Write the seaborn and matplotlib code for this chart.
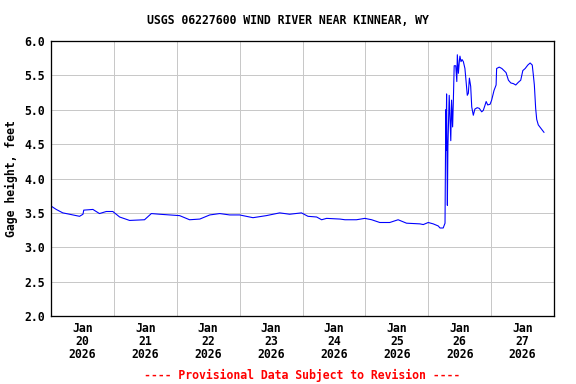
import matplotlib
matplotlib.use("Agg")
import matplotlib.pyplot as plt
import numpy as np
import pandas as pd
import seaborn as sns

# hours since 2026-01-20 00:00 and gage height (feet)
hours = [0.0, 2.0, 4.5, 7.1, 10.9, 12.2, 12.5, 16.0, 18.5, 21.1, 23.6, 26.2, 30.0,
         35.7, 38.3, 41.5, 45.3, 49.1, 52.9, 56.8, 60.6, 64.4, 68.2, 72.0, 77.1,
         82.2, 87.3, 91.1, 95.6, 98.1, 101.4, 103.3, 105.2, 110.3, 112.2, 116.6,
         119.8, 122.4, 125.5, 129.3, 132.5, 135.7, 140.8, 142.1, 144.0, 145.9,
         147.8, 148.5, 149.7, 150.4, 150.7, 150.8, 151.0, 151.3, 151.5, 152.0,
         152.6, 152.9, 153.3, 153.6, 153.9, 154.5, 154.9, 155.1, 155.5, 155.9,
         156.1, 156.5, 156.9, 157.4, 158.0, 158.4, 158.9, 159.3, 159.7, 160.2,
         160.6, 161.2, 161.8, 162.7, 163.5, 164.4, 165.0, 165.7, 166.1, 166.7,
         167.6, 168.2, 169.1, 169.9, 170.1, 171.1, 172.1, 172.9, 173.7, 174.6,
         175.5, 176.5, 177.4, 178.4, 179.3, 180.1, 181.0, 182.0, 182.9, 183.7,
         184.1, 184.5, 185.0, 185.4, 186.0, 187.0, 188.2]
gage_ft = [3.60, 3.55, 3.50, 3.48, 3.45, 3.48, 3.54, 3.55, 3.49, 3.52, 3.52, 3.44, 3.39,
           3.40, 3.49, 3.48, 3.47, 3.46, 3.40, 3.41, 3.47, 3.49, 3.47, 3.47, 3.43,
           3.46, 3.50, 3.48, 3.50, 3.45, 3.44, 3.40, 3.42, 3.41, 3.40, 3.40,
           3.42, 3.40, 3.36, 3.36, 3.40, 3.35, 3.34, 3.33, 3.36, 3.34,
           3.31, 3.28, 3.28, 3.35, 5.00, 4.41, 5.23, 3.61, 4.46, 5.21,
           4.55, 5.14, 4.75, 5.16, 5.64, 5.64, 5.41, 5.80, 5.53, 5.72,
           5.78, 5.70, 5.73, 5.70, 5.60, 5.43, 5.21, 5.24, 5.46, 5.34,
           5.04, 4.92, 5.01, 5.03, 5.02, 4.97, 4.99, 5.07, 5.12, 5.07,
           5.08, 5.14, 5.28, 5.36, 5.60, 5.62, 5.60, 5.57, 5.54, 5.43,
           5.39, 5.38, 5.36, 5.40, 5.43, 5.57, 5.60, 5.65, 5.68, 5.65,
           5.51, 5.36, 5.02, 4.86, 4.78, 4.73, 4.67]
day_labels = ["Jan\n20\n2026", "Jan\n21\n2026", "Jan\n22\n2026", "Jan\n23\n2026",
              "Jan\n24\n2026", "Jan\n25\n2026", "Jan\n26\n2026", "Jan\n27\n2026"]
y_ticks = [2.0, 2.5, 3.0, 3.5, 4.0, 4.5, 5.0, 5.5, 6.0]

start = pd.Timestamp("2026-01-20 00:00")
df = pd.DataFrame({"time": start + pd.to_timedelta(hours, unit="h"),
                   "gage": gage_ft})

sns.set_theme(style="white")
plt.rcParams["font.family"] = ["DejaVu Sans Mono"]
plt.rcParams["text.color"] = "black"
plt.rcParams["axes.labelcolor"] = "black"
plt.rcParams["xtick.color"] = "black"
plt.rcParams["ytick.color"] = "black"

fig = plt.figure(figsize=(8, 384 / 72), dpi=72)
ax = fig.add_axes([51 / 576, 1 - 316 / 384, (554 - 51) / 576, (316 - 41) / 384])

sns.lineplot(data=df, x="time", y="gage", ax=ax, color="#0000ff", linewidth=1.1)

ax.set_xlim(start, start + pd.Timedelta(days=8))
ax.set_ylim(2.0, 6.0)

midnights = [start + pd.Timedelta(days=i) for i in range(1, 8)]
noons = [start + pd.Timedelta(days=i, hours=12) for i in range(8)]
ax.set_xticks(midnights)
ax.set_xticklabels([])
ax.set_xticks(noons, minor=True)
ax.set_xticklabels(day_labels, minor=True, fontsize=11.5, fontweight="bold",
                   linespacing=1.0, color="black")
ax.set_yticks(y_ticks)
ax.set_yticklabels([f"{v:.1f}" for v in y_ticks], fontsize=11.5, fontweight="bold",
                   color="black")

ax.tick_params(axis="both", which="both", length=0)
ax.tick_params(axis="y", pad=6)
ax.tick_params(axis="x", which="minor", pad=6)

ax.grid(True, which="major", color="#c8c8c8", linewidth=1.0)
ax.grid(False, which="minor")
for s in ax.spines.values():
    s.set_visible(True)
    s.set_color("black")
    s.set_linewidth(1.3)

ax.set_xlabel("")
ax.set_ylabel("Gage height, feet", fontsize=11.5, fontweight="bold", labelpad=6,
              color="black")

fig.text(0.5, 1 - 20 / 384, "USGS 06227600 WIND RIVER NEAR KINNEAR, WY",
         ha="center", va="center", fontsize=11.5, fontweight="bold", color="black")
fig.text(302 / 576, 1 - 375 / 384, "---- Provisional Data Subject to Revision ----",
         ha="center", va="center", fontsize=11.5, fontweight="bold", color="red")

fig.savefig("out.png", dpi=72)
